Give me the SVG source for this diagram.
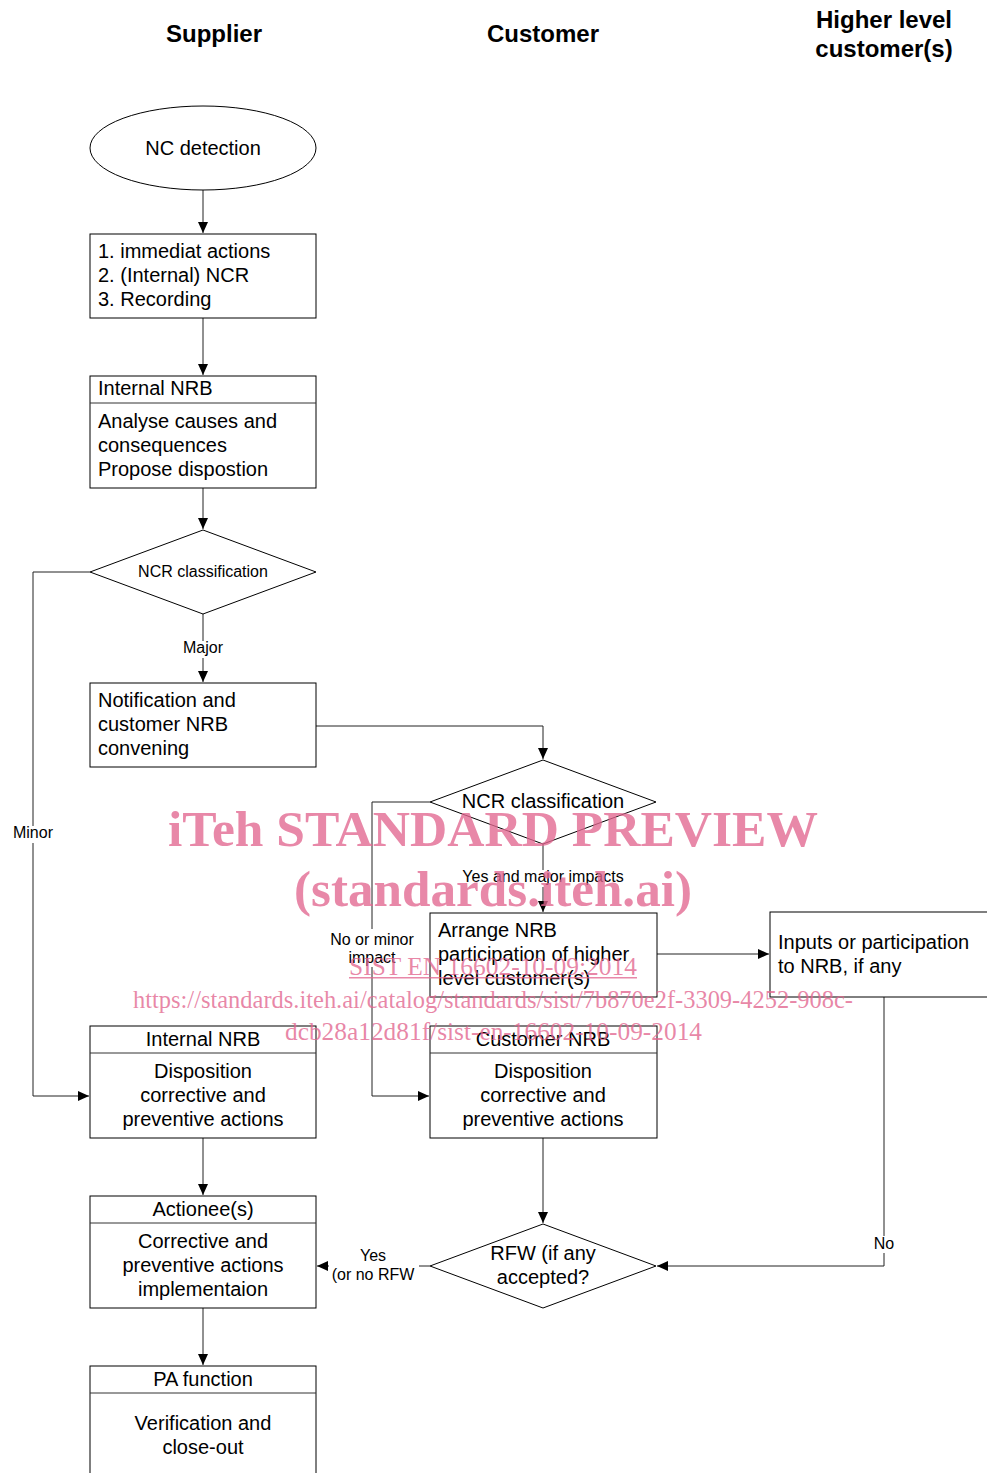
<svg xmlns="http://www.w3.org/2000/svg" width="987" height="1473" viewBox="0 0 987 1473">
<style>
.n{fill:#fff;stroke:#000;stroke-width:1}
.d{fill:none;stroke:#333;stroke-width:1}
.c{fill:none;stroke:#222;stroke-width:1}
.t{font-family:"Liberation Sans",Arial,sans-serif;font-size:20px;fill:#000}
.m{text-anchor:middle}
.s{font-family:"Liberation Sans",Arial,sans-serif;font-size:16px;fill:#000;text-anchor:middle}
.h{font-family:"Liberation Sans",Arial,sans-serif;font-size:24px;font-weight:bold;fill:#000;text-anchor:middle}
.bg{fill:#fff}
.w{font-family:"Liberation Serif","Times New Roman",serif;fill:#e2668f;fill-opacity:0.78}
</style>
<defs>
<marker id="a" markerWidth="11" markerHeight="10" refX="11" refY="5" orient="auto" markerUnits="userSpaceOnUse">
<path d="M0,0 L11,5 L0,10 z" fill="#000"/>
</marker>
</defs>
<rect width="987" height="1473" fill="#fff"/>
<g id="headers">
<text class="h" x="214" y="42">Supplier</text>
<text class="h" x="543" y="42">Customer</text>
<text class="h" x="884" y="28">Higher level</text>
<text class="h" x="884" y="57">customer(s)</text>
</g>
<g id="connectors">
<path class="c" d="M203,190 V233" marker-end="url(#a)"/>
<path class="c" d="M203,318 V375" marker-end="url(#a)"/>
<path class="c" d="M203,488 V529" marker-end="url(#a)"/>
<path class="c" d="M90,572 H33 V1096 H89" marker-end="url(#a)"/>
<path class="c" d="M203,614 V682" marker-end="url(#a)"/>
<path class="c" d="M316,726 H543 V759" marker-end="url(#a)"/>
<path class="c" d="M430,802 H372 V1096 H429" marker-end="url(#a)"/>
<path class="c" d="M543,844 V912" marker-end="url(#a)"/>
<path class="c" d="M657,954 H769" marker-end="url(#a)"/>
<path class="c" d="M884,997 V1266 H657" marker-end="url(#a)"/>
<path class="c" d="M203,1138 V1195" marker-end="url(#a)"/>
<path class="c" d="M543,1138 V1223" marker-end="url(#a)"/>
<path class="c" d="M430,1266 H317" marker-end="url(#a)"/>
<path class="c" d="M203,1308 V1365" marker-end="url(#a)"/>
<rect class="bg" x="10" y="826" width="46" height="17"/>
<text class="s" x="33" y="838">Minor</text>
<rect class="bg" x="180" y="641" width="46" height="17"/>
<text class="s" x="203" y="653">Major</text>
<rect class="bg" x="327" y="929" width="90" height="38"/>
<text class="s" x="372" y="945">No or minor</text>
<text class="s" x="372" y="963">impact</text>
<rect class="bg" x="460" y="870" width="166" height="17"/>
<text class="s" x="543" y="882">Yes and major impacts</text>
<rect class="bg" x="871" y="1236" width="26" height="17"/>
<text class="s" x="884" y="1249">No</text>
<rect class="bg" x="329" y="1248" width="90" height="36"/>
<text class="s" x="373" y="1261">Yes</text>
<text class="s" x="373" y="1280">(or no RFW</text>
</g>
<g id="nc-detection">
<ellipse class="n" cx="203" cy="148" rx="113" ry="42"/>
<text class="t m" x="203" y="155">NC detection</text>
</g>
<g id="immediate-actions">
<rect class="n" x="90" y="234" width="226" height="84"/>
<text class="t" x="98" y="258">1. immediat actions</text>
<text class="t" x="98" y="282">2. (Internal) NCR</text>
<text class="t" x="98" y="306">3. Recording</text>
</g>
<g id="internal-nrb-analyse">
<rect class="n" x="90" y="376" width="226" height="112"/>
<line class="d" x1="90" y1="403" x2="316" y2="403"/>
<text class="t" x="98" y="395">Internal NRB</text>
<text class="t" x="98" y="428">Analyse causes and</text>
<text class="t" x="98" y="452">consequences</text>
<text class="t" x="98" y="476">Propose dispostion</text>
</g>
<g id="ncr-classification-1">
<polygon class="n" points="203,530 316,572 203,614 90,572"/>
<text class="s" x="203" y="577">NCR classification</text>
</g>
<g id="notification">
<rect class="n" x="90" y="683" width="226" height="84"/>
<text class="t" x="98" y="707">Notification and</text>
<text class="t" x="98" y="731">customer NRB</text>
<text class="t" x="98" y="755">convening</text>
</g>
<g id="ncr-classification-2">
<polygon class="n" points="543,760 656,802 543,844 430,802"/>
<text class="t m" x="543" y="808">NCR classification</text>
</g>
<g id="arrange-nrb">
<rect class="n" x="430" y="913" width="227" height="84"/>
<text class="t" x="438" y="937">Arrange NRB</text>
<text class="t" x="438" y="961">participation of higher</text>
<text class="t" x="438" y="985">level customer(s)</text>
</g>
<g id="inputs">
<rect class="n" x="770" y="912" width="240" height="85"/>
<text class="t" x="778" y="949">Inputs or participation</text>
<text class="t" x="778" y="973">to NRB, if any</text>
</g>
<g id="internal-nrb-disposition">
<rect class="n" x="90" y="1026" width="226" height="112"/>
<line class="d" x1="90" y1="1053" x2="316" y2="1053"/>
<text class="t m" x="203" y="1046">Internal NRB</text>
<text class="t m" x="203" y="1078">Disposition</text>
<text class="t m" x="203" y="1102">corrective and</text>
<text class="t m" x="203" y="1126">preventive actions</text>
</g>
<g id="customer-nrb-disposition">
<rect class="n" x="430" y="1026" width="227" height="112"/>
<line class="d" x1="430" y1="1053" x2="657" y2="1053"/>
<text class="t m" x="543" y="1046">Customer NRB</text>
<text class="t m" x="543" y="1078">Disposition</text>
<text class="t m" x="543" y="1102">corrective and</text>
<text class="t m" x="543" y="1126">preventive actions</text>
</g>
<g id="rfw">
<polygon class="n" points="543,1224 656,1266 543,1308 430,1266"/>
<text class="t m" x="543" y="1260">RFW (if any</text>
<text class="t m" x="543" y="1284">accepted?</text>
</g>
<g id="actionees">
<rect class="n" x="90" y="1196" width="226" height="112"/>
<line class="d" x1="90" y1="1223" x2="316" y2="1223"/>
<text class="t m" x="203" y="1216">Actionee(s)</text>
<text class="t m" x="203" y="1248">Corrective and</text>
<text class="t m" x="203" y="1272">preventive actions</text>
<text class="t m" x="203" y="1296">implementaion</text>
</g>
<g id="pa-function">
<rect class="n" x="90" y="1366" width="226" height="120"/>
<line class="d" x1="90" y1="1393" x2="316" y2="1393"/>
<text class="t m" x="203" y="1386">PA function</text>
<text class="t m" x="203" y="1430">Verification and</text>
<text class="t m" x="203" y="1454">close-out</text>
</g>
<g id="watermark">
<text class="w" x="168" y="846" font-size="50" font-weight="bold" textLength="650" lengthAdjust="spacingAndGlyphs">iTeh STANDARD PREVIEW</text>
<text class="w" x="294" y="906" font-size="50" font-weight="bold" textLength="398" lengthAdjust="spacingAndGlyphs">(standards.iteh.ai)</text>
<text class="w" x="349" y="975" font-size="26" textLength="288" lengthAdjust="spacingAndGlyphs">SIST EN 16602-10-09:2014</text>
<rect x="349" y="977" width="288" height="1.5" fill="#e2668f" fill-opacity="0.78"/>
<text class="w" x="133" y="1008" font-size="25" textLength="720" lengthAdjust="spacingAndGlyphs">https://standards.iteh.ai/catalog/standards/sist/7b870e2f-3309-4252-908c-</text>
<text class="w" x="285" y="1040" font-size="25" textLength="417" lengthAdjust="spacingAndGlyphs">dcb28a12d81f/sist-en-16602-10-09-2014</text>
</g>
</svg>
